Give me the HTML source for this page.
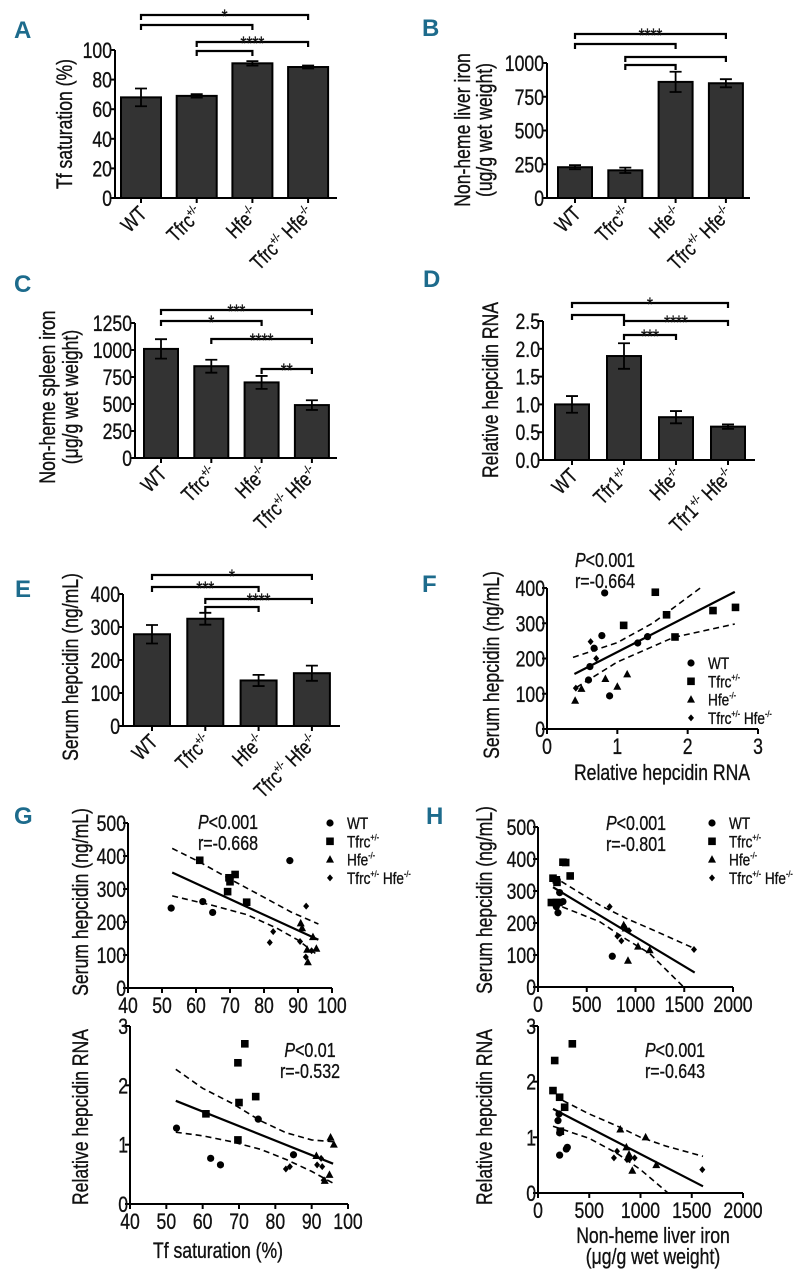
<!DOCTYPE html>
<html><head><meta charset="utf-8"><style>
html,body{margin:0;padding:0;background:#fff}
svg{display:block}
text{font-family:"Liberation Sans Narrow","Liberation Sans",sans-serif;fill:#111;stroke:#111;stroke-width:0.35}
.pl{font-family:"Liberation Sans",sans-serif;font-weight:bold;fill:#1d6b8c;stroke:none;font-size:24px}
</style></head><body>
<svg id="fig" width="800" height="1280" viewBox="0 0 800 1280" xmlns="http://www.w3.org/2000/svg"></svg>
<script>
// ---------- DATA ----------
const groupsTfrc = ["WT","Tfrc","Hfe","Tfrc Hfe"];
const groupsTfr1 = ["WT","Tfr1","Hfe","Tfr1 Hfe"];
const tfSatMeans = [68,69,91,88.5];
const tfSatErr = [6,1.2,1.5,1];
const liverIronMeans = [228,205,860,850];
const liverIronErr = [15,20,75,30];
const spleenIronMeans = [1010,850,700,490];
const spleenIronErr = [90,60,60,45];
const hepRnaMeans = [1.0,1.87,0.77,0.6];
const hepRnaErr = [0.15,0.23,0.11,0.04];
const serumHepMeans = [278,325,138,160];
const serumHepErr = [28,18,17,23];
const ticksA = [0,20,40,60,80,100];
const ticksB = [0,250,500,750,1000];
const ticksC = [0,250,500,750,1000,1250];
const ticksD = [0,0.5,1.0,1.5,2.0,2.5];
const ticksE = [0,100,200,300,400];
const sigA = [[0,3,"*"],[0,2,""],[1,3,"****"],[1,2,""]];
const sigB = [[0,3,"****"],[0,2,""],[1,3,""],[1,2,""]];
const sigC = [[0,3,"***"],[0,2,"*"],[1,3,"****"],[2,3,"**"]];
const sigD = [[0,3,"*"],[0,1,""],[1,3,"****"],[1,2,"***"]];
const sigE = [[0,3,"*"],[0,2,"***"],[1,3,"****"],[1,2,""]];

const fWT = [[0.82,386],[0.78,265],[0.67,229],[0.61,177],[0.59,139],[1.29,244],[1.43,262],[0.89,94]];
const fTfrc = [[1.54,388],[1.09,294],[1.70,324],[1.82,261],[2.36,336],[2.68,345]];
const fHfe = [[0.40,80],[0.49,114],[0.83,142],[1.0,120],[1.14,155]];
const fDbl = [[0.41,116],[0.62,248],[0.70,200]];
const fFit = [[0.39,156],[2.67,389]];
const fUpper = [[0.37,203],[1.0,245],[1.5,300],[2.18,400]];
const fLower = [[0.42,118],[1.0,190],[1.8,260],[2.67,298]];
const gtWT = [[52.7,242],[62,262],[64.9,229],[87.6,386],[74.9,258]];
const gtTfrc = [[61.1,387],[69.7,334],[70,322],[71.5,344],[69.3,292],[74.9,260]];
const gtHfe = [[90.8,196],[91.2,181],[94.4,154],[92.9,78],[95.4,119],[92.7,116]];
const gtDbl = [[81.7,138],[82.7,171],[92.4,248],[90.6,141],[92.3,94],[94,113]];
const gtFit = [[53,350],[96,146]];
const gtUpper = [[53,423],[61,382],[70,330],[80,275],[88,230],[96,194]];
const gtLower = [[53,279],[65,250],[75,222],[84,180],[90,145],[96,98]];
const gbWT = [[52.8,1.28],[62.2,0.77],[64.9,0.66],[75.3,1.43],[85,0.83]];
const gbTfrc = [[71.6,2.7],[69.7,2.38],[70,1.71],[74.6,1.81],[60.9,1.52],[69.7,1.08]];
const gbHfe = [[95.2,1.12],[96.1,1.0],[91.3,0.81],[94.9,0.49],[93.6,0.39]];
const gbDbl = [[82.9,0.59],[84,0.63],[91.5,0.66],[92.9,0.63],[92.6,0.77],[93.3,0.4]];
const gbFit = [[52.6,1.74],[95.9,0.68]];
const gbUpper = [[52.6,2.27],[60,1.95],[68,1.7],[76,1.4],[83,1.2],[90,1.08],[95.9,1.05]];
const gbLower = [[52.6,1.21],[60,1.15],[68,1.05],[76,0.92],[83,0.75],[90,0.55],[95.9,0.35]];
const htWT = [[222,295],[188,251],[205,232],[256,267],[762,96]];
const htTfrc = [[154,340],[188,335],[256,390],[284,389],[330,347],[137,264],[188,264],[215,264],[195,327]];
const htHfe = [[879,193],[899,183],[1026,126],[1145,115],[923,82]];
const htDbl = [[735,251],[814,159],[855,144],[933,176],[1600,117]];
const htFit = [[154,312],[1607,45]];
const htUpper = [[239,330],[633,256],[900,215],[1180,178],[1607,120]];
const htLower = [[154,262],[633,204],[900,150],[1145,105],[1487,2]];
const hbWT = [[195,1.30],[205,1.42],[211,0.68],[276,0.79],[286,0.82],[211,1.08]];
const hbTfrc = [[163,2.38],[335,2.68],[146,1.84],[211,1.72],[260,1.54],[218,1.11]];
const hbHfe = [[803,1.14],[1050,1.0],[862,0.82],[920,0.4],[1154,0.5],[888,0.69]];
const hbDbl = [[741,0.63],[771,0.75],[868,0.6],[943,0.63],[1603,0.42],[894,0.61]];
const hbFit = [[146,1.51],[1610,0.12]];
const hbUpper = [[244,1.66],[500,1.42],[764,1.21],[1000,1.0],[1252,0.84],[1610,0.66]];
const hbLower = [[146,1.2],[500,0.98],[764,0.72],[1000,0.42],[1268,0]];

const NS="http://www.w3.org/2000/svg";
const fig=document.getElementById('fig');
function mk(tag,parent,attrs){const e=document.createElementNS(NS,tag);for(const k in attrs)e.setAttribute(k,attrs[k]);parent.appendChild(e);return e;}
function lbl(parent,x,y,str,size,anchor){
  const t=mk('text',parent,{x:x,y:y,'font-size':size,'text-anchor':anchor||'middle'});
  t.textContent=str;
  
  
  return t;
}
function supLabel(parent,x,y,base,sup,rest,restSup,size,rot){
  const t=mk('text',parent,{x:0,y:0,'font-size':size,'text-anchor':'end',transform:'translate('+x+','+y+') rotate('+rot+')'});
  
  
  const a=mk('tspan',t,{});a.textContent=base;
  if(sup){const s=mk('tspan',t,{'font-size':size*0.55,dy:-8});s.textContent=sup;}
  if(rest){const r=mk('tspan',t,{dy:sup?8:0});r.textContent=' '+rest;
    if(restSup){const s2=mk('tspan',t,{'font-size':size*0.55,dy:-8});s2.textContent=restSup;}}
  return t;
}
function panelLetter(x,y,ch){
  const t=mk('text',fig,{x:x,y:y,class:'pl'});t.textContent=ch;
  
  
}
const TICK=22, TITLE=22;

function barChart(o){
  const g=mk('g',fig,{});
  
  
  const ys=v=>o.y0-(v/o.ymax)*(o.y0-o.ytop);
  const xs=i=>o.cx0+i*o.step;
  const ya=mk('line',g,{x1:o.xa,y1:o.y0,x2:o.xa,y2:o.ytop,stroke:'#000','stroke-width':2});
  
  
  const xa=mk('line',g,{x1:o.xa,y1:o.y0,x2:o.xe,y2:o.y0,stroke:'#000','stroke-width':2});
  
  
  o.ticks.forEach(v=>{
    const tk=mk('line',g,{x1:o.xa-5,y1:ys(v),x2:o.xa,y2:ys(v),stroke:'#000','stroke-width':2});
    
    
    lbl(g,o.xa-3,ys(v)+8,o.fmt?o.fmt(v):String(v),TICK,'end');
  });
  o.means.forEach((m,i)=>{
    const b=mk('rect',g,{x:xs(i)-o.hw,y:ys(m),width:2*o.hw,height:o.y0-ys(m),fill:'#333',stroke:'#000','stroke-width':2});
    
    
    const e=o.err[i];
    const el=mk('path',g,{d:'M'+xs(i)+' '+ys(m-e)+'V'+ys(m+e)+'M'+(xs(i)-6)+' '+ys(m+e)+'h12M'+(xs(i)-6)+' '+ys(m-e)+'h12',stroke:'#000','stroke-width':1.8,fill:'none'});
    
    
    const tk=mk('line',g,{x1:xs(i),y1:o.y0,x2:xs(i),y2:o.y0+5,stroke:'#000','stroke-width':2});
    
    
    const parts=o.cats[i].split(' ');
    const sup1=i===0?'':(parts[0]==='Hfe'?'-/-':'+/-');
    supLabel(g,xs(i)+7,o.y0+17,parts[0],sup1,parts[1]||'',parts[1]?'-/-':'',21,-45);
  });
  o.sig.forEach((s,k)=>{
    const y=o.by[k],x1=xs(s[0]),x2=xs(s[1]);
    const br=mk('path',g,{d:'M'+x1+' '+(y+5)+'V'+y+'H'+x2+'V'+(y+5),stroke:'#000','stroke-width':2.2,fill:'none'});
    
    
    if(s[2])lbl(g,(x1+x2)/2,y+8,s[2],19,'middle');
  });
  o.title.forEach((t,k)=>{
    const tt=mk('text',g,{x:0,y:0,'font-size':TITLE,'text-anchor':'middle',transform:'translate('+o.tx[k]+','+o.ty+') rotate(-90)'});
    tt.textContent=t;
    
    
  });
}

function sym(g,type,x,y){
  let e;
  if(type==='c')e=mk('circle',g,{cx:x,cy:y,r:3.6,fill:'#000'});
  else if(type==='s')e=mk('rect',g,{x:x-3.8,y:y-3.8,width:7.6,height:7.6,fill:'#000'});
  else if(type==='t')e=mk('path',g,{d:'M'+x+' '+(y-4.5)+'L'+(x+4)+' '+(y+3)+'L'+(x-4)+' '+(y+3)+'Z',fill:'#000'});
  else e=mk('path',g,{d:'M'+x+' '+(y-3.5)+'L'+(x+3)+' '+y+'L'+x+' '+(y+3.5)+'L'+(x-3)+' '+y+'Z',fill:'#000'});
  return e;
}
function scatter(o){
  const g=mk('g',fig,{});
  
  
  const xs=v=>o.xL+(v-o.xmin)/(o.xmax-o.xmin)*(o.xR-o.xL);
  const ys=v=>o.yB-(v-o.ymin)/(o.ymax-o.ymin)*(o.yB-o.yT);
  const ya=mk('line',g,{x1:o.xL,y1:o.yB,x2:o.xL,y2:o.yT,stroke:'#000','stroke-width':2});
  
  
  const xa=mk('line',g,{x1:o.xL,y1:o.yB,x2:o.xR,y2:o.yB,stroke:'#000','stroke-width':2});
  
  
  o.yt.forEach(v=>{
    const tk=mk('line',g,{x1:o.xL-5,y1:ys(v),x2:o.xL,y2:ys(v),stroke:'#000','stroke-width':2});
    
    
    lbl(g,o.xL-2,ys(v)+8,String(v),TICK,'end');
  });
  o.xt.forEach(v=>{
    const tk=mk('line',g,{x1:xs(v),y1:o.yB,x2:xs(v),y2:o.yB+5,stroke:'#000','stroke-width':2});
    
    
    lbl(g,xs(v),o.yB+25,String(v),TICK,'middle');
  });
  const pth=(arr)=>arr.map((p,i)=>(i?'L':'M')+xs(p[0]).toFixed(1)+' '+ys(p[1]).toFixed(1)).join('');
  const fit=mk('path',g,{d:pth(o.fit),stroke:'#000','stroke-width':2.2,fill:'none'});
  
  
  [o.up,o.lo].forEach(a=>{
    const c=mk('path',g,{d:pth(a),stroke:'#000','stroke-width':1.6,'stroke-dasharray':'6,4',fill:'none'});
    
    
  });
  [['c',o.wt,'wt'],['s',o.tf,'tfrc'],['t',o.hf,'hfe'],['d',o.db,'tfrc-hfe']].forEach(s=>{
    s[1].forEach(p=>{
      const e=sym(g,s[0],xs(p[0]),ys(p[1]));
      
      
    });
  });
  const pt=mk('text',g,{x:o.px,y:o.py,'font-size':20,'text-anchor':'middle'});
  
  
  const it=mk('tspan',pt,{'font-style':'italic'});it.textContent='P';
  const rt=mk('tspan',pt,{});rt.textContent=o.p;
  lbl(g,o.px,o.py+21,o.r,20,'middle');
  if(o.leg){
    const names=[['WT',''],['Tfrc','+/-'],['Hfe','-/-'],['Tfrc','+/- Hfe-/-']];
    ['c','s','t','d'].forEach((tp,k)=>{
      const y=o.leg[1]+k*18.3;
      const e=sym(g,tp,o.leg[0],y);
      
      
      const t=mk('text',g,{x:o.leg[0]+17,y:y+6,'font-size':17});
      
      
      const a=mk('tspan',t,{});a.textContent=names[k][0];
      if(names[k][1]){
        const sp=names[k][1].split(' ');
        const s1=mk('tspan',t,{'font-size':9,dy:-7});s1.textContent=sp[0];
        if(sp[1]){const b=mk('tspan',t,{dy:7});b.textContent=' Hfe';const s2=mk('tspan',t,{'font-size':9,dy:-7});s2.textContent='-/-';}
      }
    });
  }
  o.ytitle.forEach((t,k)=>{
    const tt=mk('text',g,{x:0,y:0,'font-size':TITLE,'text-anchor':'middle',transform:'translate('+o.ytx[k]+','+o.yty+') rotate(-90)'});
    tt.textContent=t;
    
    
  });
  (o.xtitle||[]).forEach((t,k)=>{
    const tt=lbl(g,o.xtx,o.xty+k*21,t,TITLE,'middle');
    
  });
}

panelLetter(14,38,'A');panelLetter(422,36,'B');panelLetter(14,292,'C');panelLetter(423,287,'D');
panelLetter(15,597,'E');panelLetter(422,592,'F');panelLetter(14,824,'G');panelLetter(426,824,'H');

barChart({name:'panel-a-tf-saturation',xa:115,xe:337,y0:198,ytop:50,ymax:100,ticks:ticksA,cats:groupsTfrc,means:tfSatMeans,err:tfSatErr,
  cx0:141,step:55.7,hw:20,sig:sigA,by:[15,25,42,51],title:['Tf saturation (%)'],tx:[72],ty:124});
barChart({name:'panel-b-liver-iron',xa:547,xe:750,y0:198,ytop:63,ymax:1000,ticks:ticksB,cats:groupsTfrc,means:liverIronMeans,err:liverIronErr,
  cx0:575,step:50.3,hw:17,sig:sigB,by:[34,44,57,65],title:['Non-heme liver iron','(ug/g wet weight)'],tx:[470,492],ty:130});
barChart({name:'panel-c-spleen-iron',xa:135,xe:337,y0:458,ytop:323,ymax:1250,ticks:ticksC,cats:groupsTfrc,means:spleenIronMeans,err:spleenIronErr,
  cx0:161,step:50.3,hw:17,sig:sigC,by:[310,321,339,369],title:['Non-heme spleen iron','(μg/g wet weight)'],tx:[55,78],ty:397});
barChart({name:'panel-d-hepcidin-rna',xa:543,xe:755,y0:460,ytop:321,ymax:2.5,ticks:ticksD,fmt:v=>v.toFixed(1),cats:groupsTfr1,means:hepRnaMeans,err:hepRnaErr,
  cx0:572,step:52,hw:17,sig:sigD,by:[303,315,321,335],title:['Relative hepcidin RNA'],tx:[498],ty:390});
barChart({name:'panel-e-serum-hepcidin',xa:123,xe:340,y0:726,ytop:594,ymax:400,ticks:ticksE,cats:groupsTfrc,means:serumHepMeans,err:serumHepErr,
  cx0:152,step:53.3,hw:18,sig:sigE,by:[575,587,599,607],title:['Serum hepcidin (ng/mL)'],tx:[78],ty:667});

scatter({name:'panel-f-scatter',xL:547,xR:758,xmin:0,xmax:3,yB:729,yT:588,ymin:0,ymax:400,xt:[0,1,2,3],yt:[0,100,200,300,400],
  wt:fWT,tf:fTfrc,hf:fHfe,db:fDbl,fit:fFit,up:fUpper,lo:fLower,px:605,py:567,p:'<0.001',r:'r=-0.664',leg:[691,663],
  ytitle:['Serum hepcidin (ng/mL)'],ytx:[499],yty:665,xtitle:['Relative hepcidin RNA'],xtx:662,xty:780});
scatter({name:'panel-g-top-scatter',xL:128,xR:332,xmin:40,xmax:100,yB:988,yT:823,ymin:0,ymax:500,xt:[40,50,60,70,80,90,100],yt:[0,100,200,300,400,500],
  wt:gtWT,tf:gtTfrc,hf:gtHfe,db:gtDbl,fit:gtFit,up:gtUpper,lo:gtLower,px:228,py:829,p:'<0.001',r:'r=-0.668',leg:[330,823],
  ytitle:['Serum hepcidin (ng/mL)'],ytx:[88],yty:902});
scatter({name:'panel-g-bottom-scatter',xL:130,xR:348,xmin:40,xmax:100,yB:1204,yT:1026,ymin:0,ymax:3,xt:[40,50,60,70,80,90,100],yt:[0,1,2,3],
  wt:gbWT,tf:gbTfrc,hf:gbHfe,db:gbDbl,fit:gbFit,up:gbUpper,lo:gbLower,px:310,py:1057,p:'<0.01',r:'r=-0.532',
  ytitle:['Relative hepcidin RNA'],ytx:[88],yty:1117,xtitle:['Tf saturation (%)'],xtx:218,xty:1258});
scatter({name:'panel-h-top-scatter',xL:538,xR:733,xmin:0,xmax:2000,yB:987,yT:827,ymin:0,ymax:500,xt:[0,500,1000,1500,2000],yt:[0,100,200,300,400,500],
  wt:htWT,tf:htTfrc,hf:htHfe,db:htDbl,fit:htFit,up:htUpper,lo:htLower,px:636,py:830,p:'<0.001',r:'r=-0.801',leg:[712,823],
  ytitle:['Serum hepcidin (ng/mL)'],ytx:[492],yty:900});
scatter({name:'panel-h-bottom-scatter',xL:538,xR:743,xmin:0,xmax:2000,yB:1193,yT:1026,ymin:0,ymax:3,xt:[0,500,1000,1500,2000],yt:[0,1,2,3],
  wt:hbWT,tf:hbTfrc,hf:hbHfe,db:hbDbl,fit:hbFit,up:hbUpper,lo:hbLower,px:675,py:1057,p:'<0.001',r:'r=-0.643',
  ytitle:['Relative hepcidin RNA'],ytx:[492],yty:1117,xtitle:['Non-heme liver iron','(μg/g wet weight)'],xtx:653,xty:1243});

// condense text horizontally to mimic a narrow font
document.querySelectorAll('#fig text:not(.pl)').forEach(t=>{
  try{const L=t.getComputedTextLength();if(L>0){t.setAttribute('textLength',(L*0.8).toFixed(1));t.setAttribute('lengthAdjust','spacingAndGlyphs');}}catch(e){}
});
</script>
</body></html>
